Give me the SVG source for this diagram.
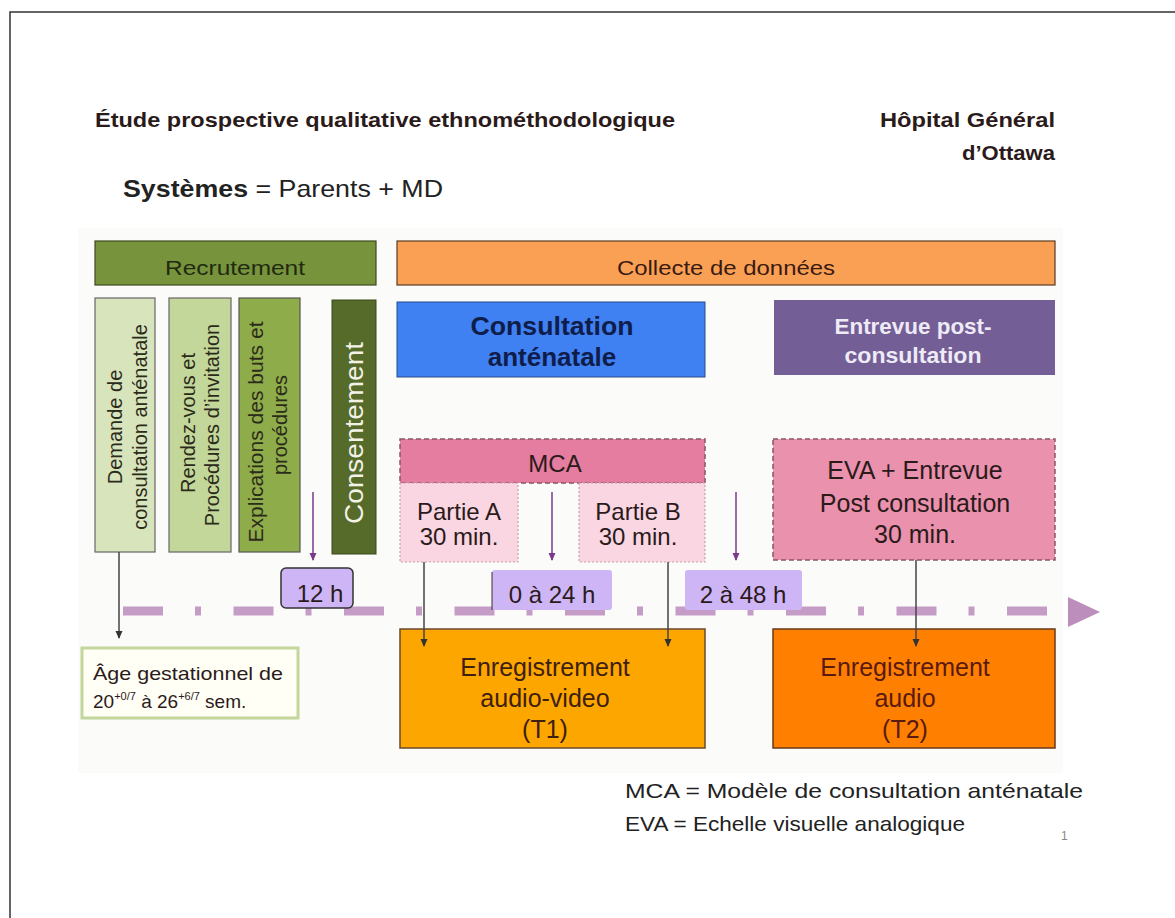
<svg xmlns="http://www.w3.org/2000/svg" width="1175" height="918" viewBox="0 0 1175 918">
<style>
.sans{font-family:"Liberation Sans",Arial,sans-serif}
.cal{font-family:"Liberation Sans",Arial,sans-serif}
.dk{fill:#2b1a1a}
.mid{text-anchor:middle}
.vt{font-size:20px;fill:#2b2b1a}
.tag{fill:#CDB5F6;stroke:#333;stroke-width:1.5}
.pinkd{stroke:#8a5566;stroke-width:1.5;stroke-dasharray:5 3}
.pinkl{fill:#F9D6E1;stroke:#c9a0ad;stroke-width:1.2;stroke-dasharray:2 2}
.cpurp{stroke:#7a3a8c;stroke-width:1.5;fill:none}
.cdark{stroke:#444;stroke-width:1.5;fill:none}
</style>
<defs>
<marker id="ad" markerWidth="8" markerHeight="8" refX="7" refY="4" orient="auto" markerUnits="userSpaceOnUse" viewBox="0 0 8 8">
<path d="M0,0.5 L8,4 L0,7.5 Z" fill="#333"/>
</marker>
<marker id="ap2" markerWidth="8" markerHeight="8" refX="7" refY="4" orient="auto" markerUnits="userSpaceOnUse" viewBox="0 0 8 8">
<path d="M0,0.5 L8,4 L0,7.5 Z" fill="#7a3a8c"/>
</marker>
</defs>
<rect width="1175" height="918" fill="#ffffff"/>
<rect x="10" y="12" width="1180" height="920" fill="none" stroke="#333" stroke-width="1.5"/>
<rect x="78" y="228" width="985" height="545" fill="#FBFBFA"/>

<g id="header">
<text class="cal dk" x="95" y="127" font-size="20" font-weight="bold" textLength="580" lengthAdjust="spacingAndGlyphs">Étude prospective qualitative ethnométhodologique</text>
<text class="cal dk" x="1055" y="127" font-size="20" font-weight="bold" text-anchor="end" textLength="175" lengthAdjust="spacingAndGlyphs">Hôpital Général</text>
<text class="cal dk" x="1055" y="160" font-size="20" font-weight="bold" text-anchor="end" textLength="93" lengthAdjust="spacingAndGlyphs">d’Ottawa</text>
<text class="sans" x="123" y="197" font-size="24" fill="#222" textLength="320" lengthAdjust="spacingAndGlyphs"><tspan font-weight="bold">Systèmes</tspan> = Parents + MD</text>
</g>

<g id="timeline">
<path d="M123 611 H1052" stroke="#C59CC5" stroke-width="9" stroke-dasharray="40 32 6 32.5" fill="none"/>
<polygon points="1068,597 1100,612 1068,627" fill="#BB8EBB"/>
</g>

<g id="recrutement">
<rect x="95" y="241" width="281" height="44" fill="#77933C" stroke="#3d4a20" stroke-width="1.2"/>
<text class="cal mid" x="235" y="275" font-size="20" fill="#1f2a10" textLength="140" lengthAdjust="spacingAndGlyphs">Recrutement</text>
</g>
<g id="collecte">
<rect x="397" y="241" width="658" height="44" fill="#F9A055" stroke="#5a3a20" stroke-width="1.2"/>
<text class="cal mid" x="726" y="275" font-size="20" fill="#3a1a10" textLength="218" lengthAdjust="spacingAndGlyphs">Collecte de données</text>
</g>

<g id="demande">
<rect x="95" y="298" width="60" height="254" fill="#D8E4BC" stroke="#666" stroke-width="1.2"/>
<text class="sans vt mid" transform="translate(122 427) rotate(-90)">Demande de</text>
<text class="sans vt mid" transform="translate(147 427) rotate(-90)">consultation anténatale</text>
</g>
<g id="rendezvous">
<rect x="169" y="298" width="62" height="254" fill="#C4D79B" stroke="#666" stroke-width="1.2"/>
<text class="sans vt mid" transform="translate(195 423) rotate(-90)">Rendez-vous et</text>
<text class="sans vt mid" transform="translate(219 425) rotate(-90)">Procédures d’invitation</text>
</g>
<g id="explications">
<rect x="239" y="298" width="61" height="254" fill="#8FAC4A" stroke="#555" stroke-width="1.2"/>
<text class="sans vt mid" transform="translate(263 432) rotate(-90)" textLength="221" lengthAdjust="spacingAndGlyphs">Explications des buts et</text>
<text class="sans vt mid" transform="translate(287 425) rotate(-90)">procédures</text>
</g>
<g id="consentement">
<rect x="332" y="300" width="44" height="254" fill="#566A29" stroke="#3a4a1a" stroke-width="1"/>
<text class="sans mid" transform="translate(363 433) rotate(-90)" font-size="26" fill="#F2F2E8" textLength="182" lengthAdjust="spacingAndGlyphs">Consentement</text>
</g>

<g id="consultation">
<rect x="397" y="302" width="308" height="75" fill="#3F80F3" stroke="#2a4a8a" stroke-width="1"/>
<text class="sans mid" x="552" y="335" font-size="26" font-weight="bold" fill="#0F1D4A" textLength="163" lengthAdjust="spacingAndGlyphs">Consultation</text>
<text class="sans mid" x="552" y="366" font-size="26" font-weight="bold" fill="#0F1D4A">anténatale</text>
</g>
<g id="entrevue">
<rect x="774" y="300" width="281" height="75" fill="#735F96"/>
<text class="cal mid" x="913" y="334" font-size="22" font-weight="bold" fill="#EEEAF6" textLength="157" lengthAdjust="spacingAndGlyphs">Entrevue post-</text>
<text class="cal mid" x="913" y="363" font-size="22" font-weight="bold" fill="#EEEAF6" textLength="137" lengthAdjust="spacingAndGlyphs">consultation</text>
</g>

<g id="mca">
<rect x="400" y="439" width="305" height="44" fill="#E47D9F" class="pinkd"/>
<text class="sans mid dk" x="555" y="472" font-size="24">MCA</text>
</g>
<g id="partieA">
<rect x="400" y="483" width="118" height="79" class="pinkl"/>
<text class="sans mid dk" x="459" y="520" font-size="24">Partie A</text>
<text class="sans mid dk" x="459" y="545" font-size="24">30 min.</text>
</g>
<g id="partieB">
<rect x="579" y="483" width="126" height="79" class="pinkl"/>
<text class="sans mid dk" x="638" y="520" font-size="24">Partie B</text>
<text class="sans mid dk" x="638" y="545" font-size="24">30 min.</text>
</g>
<g id="eva">
<rect x="773" y="439" width="282" height="121" fill="#E991AD" class="pinkd"/>
<text class="sans mid dk" x="915" y="479" font-size="25">EVA + Entrevue</text>
<text class="sans mid dk" x="915" y="512" font-size="25">Post consultation</text>
<text class="sans mid dk" x="915" y="543" font-size="25">30 min.</text>
</g>

<g id="t12">
<rect x="281" y="568" width="72" height="40" rx="5" class="tag"/>
<text class="sans mid dk" x="320" y="602" font-size="24">12 h</text>
</g>
<g id="t024">
<rect x="492" y="570" width="120" height="40" rx="3" fill="#CDB5F6"/>
<text class="sans mid dk" x="552" y="603" font-size="24">0 à 24 h</text>
</g>
<g id="t248">
<rect x="685" y="570" width="117" height="40" rx="3" fill="#CDB5F6"/>
<text class="sans mid dk" x="743" y="603" font-size="24">2 à 48 h</text>
</g>

<g id="age">
<rect x="82" y="648" width="216" height="70" fill="#FFFFF6" stroke="#C3D69B" stroke-width="3"/>
<text class="cal dk" x="93" y="680" font-size="19" textLength="190" lengthAdjust="spacingAndGlyphs">Âge gestationnel de</text>
<text class="cal dk" x="93" y="708" font-size="19">20<tspan font-size="11" dy="-8">+0/7</tspan><tspan dy="8"> à 26</tspan><tspan font-size="11" dy="-8">+6/7</tspan><tspan dy="8"> sem.</tspan></text>
</g>

<g id="t1">
<rect x="400" y="629" width="305" height="119" fill="#FDA600" stroke="#6b4a2a" stroke-width="1.5"/>
<text class="sans mid" x="545" y="676" font-size="25" fill="#3d2010">Enregistrement</text>
<text class="sans mid" x="545" y="707" font-size="25" fill="#3d2010">audio-video</text>
<text class="sans mid" x="545" y="738" font-size="25" fill="#3d2010">(T1)</text>
</g>
<g id="t2">
<rect x="773" y="629" width="282" height="119" fill="#FF8000" stroke="#6b3a1a" stroke-width="1.5"/>
<text class="sans mid" x="905" y="676" font-size="25" fill="#5a1a10">Enregistrement</text>
<text class="sans mid" x="905" y="707" font-size="25" fill="#5a1a10">audio</text>
<text class="sans mid" x="905" y="738" font-size="25" fill="#5a1a10">(T2)</text>
</g>

<g id="connectors">
<line x1="313" y1="492" x2="313" y2="560" class="cpurp" marker-end="url(#ap2)"/>
<line x1="552" y1="492" x2="552" y2="560" class="cpurp" marker-end="url(#ap2)"/>
<line x1="736" y1="492" x2="736" y2="560" class="cpurp" marker-end="url(#ap2)"/>
<line x1="119" y1="552" x2="119" y2="638" class="cdark" marker-end="url(#ad)"/>
<line x1="424" y1="562" x2="424" y2="646" class="cdark" marker-end="url(#ad)"/>
<line x1="668" y1="562" x2="668" y2="646" class="cdark" marker-end="url(#ad)"/>
<line x1="916" y1="560" x2="916" y2="646" class="cdark" marker-end="url(#ad)"/>
<line x1="492" y1="572" x2="492" y2="610" stroke="#333" stroke-width="1"/>
</g>

<g id="legend">
<text class="cal" x="625" y="798" font-size="21" fill="#222" textLength="458" lengthAdjust="spacingAndGlyphs">MCA = Modèle de consultation anténatale</text>
<text class="cal" x="625" y="831" font-size="21" fill="#222" textLength="340" lengthAdjust="spacingAndGlyphs">EVA = Echelle visuelle analogique</text>
<text class="sans" x="1061" y="840" font-size="12" fill="#888">1</text>
</g>
</svg>
